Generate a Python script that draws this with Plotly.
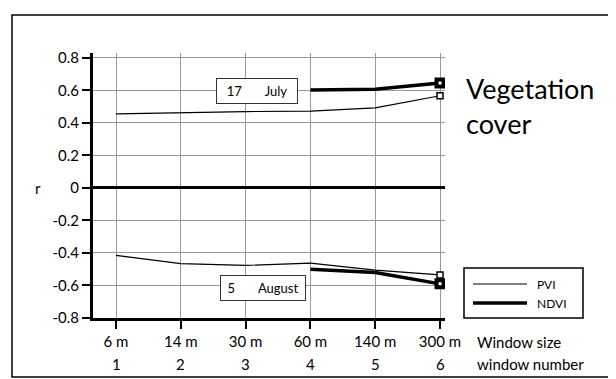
import plotly.graph_objects as go

windows = [1, 2, 3, 4, 5, 6]
window_sizes = ["6 m", "14 m", "30 m", "60 m", "140 m", "300 m"]
y_ticks = [0.8, 0.6, 0.4, 0.2, 0, -0.2, -0.4, -0.6, -0.8]
y_tick_labels = ["0.8", "0.6", "0.4", "0.2", "0", "-0.2", "-0.4", "-0.6", "-0.8"]

pvi_july = [0.455, 0.462, 0.47, 0.472, 0.492, 0.567]
ndvi_july_windows = [4, 5, 6]
ndvi_july = [0.602, 0.607, 0.645]
pvi_august = [-0.415, -0.465, -0.476, -0.463, -0.505, -0.535]
ndvi_august_windows = [4, 5, 6]
ndvi_august = [-0.5, -0.52, -0.59]

FONT = "Lato, 'Open Sans', sans-serif"

# page body has an 8px margin; figure is shifted accordingly
W, H = 608, 371
L, T, PW, PH = 85, 45, 352, 265


def px(xr):
    return (xr - 8 - L) / PW


def py(yr):
    return (T + PH - (yr - 8)) / PH


fig = go.Figure()

fig.add_trace(go.Scatter(x=windows, y=pvi_july, mode="lines", name="PVI",
                         showlegend=False, line=dict(color="black", width=1.2)))
fig.add_trace(go.Scatter(x=ndvi_july_windows, y=ndvi_july, mode="lines", name="NDVI",
                         showlegend=False, line=dict(color="black", width=3.5)))
fig.add_trace(go.Scatter(x=windows, y=pvi_august, mode="lines", name="PVI",
                         showlegend=False, line=dict(color="black", width=1.2)))
fig.add_trace(go.Scatter(x=ndvi_august_windows, y=ndvi_august, mode="lines", name="NDVI",
                         showlegend=False, line=dict(color="black", width=3.5)))

# end markers
fig.add_trace(go.Scatter(x=[windows[-1], windows[-1]], y=[pvi_july[-1], pvi_august[-1]],
                         mode="markers", showlegend=False,
                         marker=dict(symbol="square", size=6, color="white",
                                     line=dict(color="black", width=1.5))))
fig.add_trace(go.Scatter(x=[ndvi_july_windows[-1], ndvi_august_windows[-1]],
                         y=[ndvi_july[-1], ndvi_august[-1]],
                         mode="markers", showlegend=False,
                         marker=dict(symbol="square", size=7, color="white",
                                     line=dict(color="black", width=4))))

fig.update_layout(
    width=W, height=H,
    margin=dict(l=L, r=W - L - PW, t=T, b=H - T - PH, pad=0),
    paper_bgcolor="white", plot_bgcolor="white",
    font=dict(family=FONT, color="black", size=15),
    showlegend=False,
)

fig.update_xaxes(
    range=[0.645, 6.077],
    tickvals=windows, ticktext=window_sizes,
    showgrid=True, gridcolor="#999999", gridwidth=1,
    showline=True, linecolor="black", linewidth=3,
    ticks="outside", ticklen=8, tickwidth=2, tickcolor="black",
    zeroline=False, tickfont=dict(size=15),
)
fig.update_yaxes(
    range=[-0.8, 0.83],
    tickvals=y_ticks, ticktext=y_tick_labels,
    showgrid=True, gridcolor="#999999", gridwidth=1,
    showline=True, linecolor="black", linewidth=3,
    ticks="outside", ticklen=8, tickwidth=2, tickcolor="black",
    zeroline=True, zerolinecolor="black", zerolinewidth=3,
    tickfont=dict(size=15),
)

# second row of x labels: window numbers
for w in windows:
    fig.add_annotation(x=w, y=py(364), xref="x", yref="paper", text=str(w),
                       showarrow=False, yanchor="middle", font=dict(size=15))

# outer frame
fig.add_shape(type="rect", xref="paper", yref="paper",
              x0=px(12), x1=px(614), y0=py(377), y1=py(15),
              line=dict(color="black", width=1.5), fillcolor="rgba(0,0,0,0)",
              layer="below")

# legend box (drawn manually)
fig.add_shape(type="rect", xref="paper", yref="paper",
              x0=px(464), x1=px(583), y0=py(318), y1=py(268),
              line=dict(color="black", width=1.5), fillcolor="white")
fig.add_shape(type="line", xref="paper", yref="paper",
              x0=px(473), x1=px(527), y0=py(284), y1=py(284),
              line=dict(color="black", width=1.2))
fig.add_shape(type="line", xref="paper", yref="paper",
              x0=px(473), x1=px(527), y0=py(303), y1=py(303),
              line=dict(color="black", width=3.5))
fig.add_annotation(x=px(535), y=py(284), xref="paper", yref="paper", text="PVI",
                   showarrow=False, xanchor="left", yanchor="middle", font=dict(size=12))
fig.add_annotation(x=px(535), y=py(303), xref="paper", yref="paper", text="NDVI",
                   showarrow=False, xanchor="left", yanchor="middle", font=dict(size=12))

fig.add_annotation(x=3.18, y=0.598, xref="x", yref="y",
                   text="17\u00a0\u00a0\u00a0\u00a0\u00a0\u00a0\u00a0July", showarrow=False,
                   font=dict(size=13), bgcolor="white", bordercolor="#333",
                   borderwidth=1, borderpad=4, width=72)
fig.add_annotation(x=3.27, y=-0.618, xref="x", yref="y",
                   text="5\u00a0\u00a0\u00a0\u00a0\u00a0\u00a0\u00a0August", showarrow=False,
                   font=dict(size=13), bgcolor="white", bordercolor="#333",
                   borderwidth=1, borderpad=4, width=76)

fig.add_annotation(x=px(464), y=py(70), xref="paper", yref="paper",
                   text="Vegetation<br>cover", showarrow=False, align="left",
                   xanchor="left", yanchor="top", font=dict(size=27))
fig.add_annotation(x=px(475), y=py(342), xref="paper", yref="paper",
                   text="Window size", showarrow=False, align="left",
                   xanchor="left", yanchor="middle", font=dict(size=15))
fig.add_annotation(x=px(475), y=py(364), xref="paper", yref="paper",
                   text="window number", showarrow=False, align="left",
                   xanchor="left", yanchor="middle", font=dict(size=15))
fig.add_annotation(x=px(38), y=0, xref="paper", yref="y",
                   text="r", showarrow=False, xanchor="center", yanchor="middle",
                   font=dict(size=15))

fig.write_html("out.html")
